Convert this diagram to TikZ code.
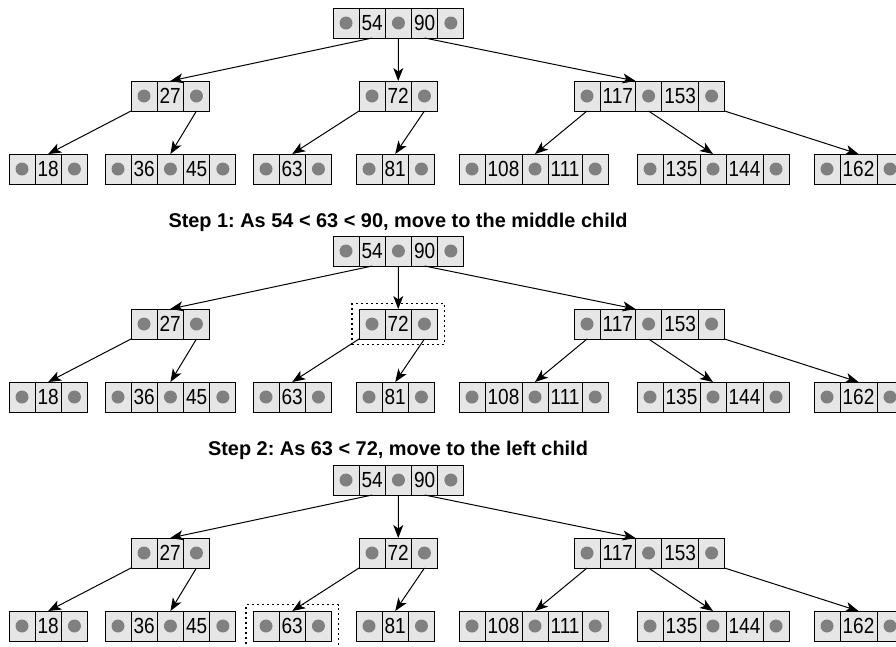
\documentclass[tikz,border=0pt]{standalone}
\usepackage{graphicx}
\usepackage{fontspec}
\setmainfont{Liberation Sans}
\usetikzlibrary{arrows.meta,positioning,fit}

\definecolor{cellgray}{RGB}{230,230,230}
\definecolor{dotgray}{RGB}{128,128,128}

% one B-tree node: dot | key | dot | key | dot ...
\newcommand{\keyrow}[3]{%
  \node[dotcell, anchor=north west] (#1-1) at (#2) {};
  \foreach \k [count=\i] in {#3} {
    \pgfmathtruncatemacro{\cellL}{2*\i-1}
    \pgfmathtruncatemacro{\cellK}{2*\i}
    \pgfmathtruncatemacro{\cellR}{2*\i+1}
    \node[keycell, right=0pt of #1-\cellL] (#1-\cellK) {\scalebox{1}[1.15]{\k}};
    \node[dotcell, right=0pt of #1-\cellK] (#1-\cellR) {};
  }%
}

% the whole tree, node names get prefix #1
\newcommand{\btree}[1]{%
  \keyrow{#1root}{333,8}{54,90}
  \keyrow{#1n27}{131,81}{27}
  \keyrow{#1n72}{359,81}{72}
  \keyrow{#1n117}{574,81}{117,153}
  \keyrow{#1n18}{9,154}{18}
  \keyrow{#1n36}{105,154}{36,45}
  \keyrow{#1n63}{253,154}{63}
  \keyrow{#1n81}{356,154}{81}
  \keyrow{#1n108}{459,154}{108,111}
  \keyrow{#1n135}{637,154}{135,144}
  \keyrow{#1n162}{814,154}{162}
  \draw[link] (#1root-2.south) -- (#1n27-2.north);
  \draw[link] (#1root-3.south) -- (#1n72-2.north);
  \draw[link] (#1root-4.south) -- (#1n117-2.north east);
  \draw[link] (#1n27-1.south west) -- (#1n18-2.north);
  \draw[link] (#1n27-3.south) -- (#1n36-3.north);
  \draw[link] (#1n72-1.south west) -- (#1n63-2.north);
  \draw[link] (#1n72-3.south) -- (#1n81-2.north);
  \draw[link] (#1n117-1.south) -- (#1n108-3.north);
  \draw[link] (#1n117-3.south) -- (#1n135-3.north);
  \draw[link] (#1n117-5.south east) -- (#1n162-2.north);
}

\begin{document}
\frenchspacing
\begin{tikzpicture}[x=1pt, y=-1pt, line width=1pt,
    cell/.style={draw, fill=cellgray, outer sep=0pt, inner ysep=0pt,
      minimum height=30pt, font=\fontsize{19}{20}\selectfont},
    dotcell/.style={cell, minimum width=26pt, inner xsep=0pt,
      path picture={\fill[dotgray] (path picture bounding box.center) circle (6.5pt);}},
    keycell/.style={cell, minimum width=26pt, inner xsep=2.65pt},
    link/.style={-{Stealth[length=13pt, width=10pt, inset=3.5pt]}},
    steptitle/.style={anchor=base, font=\bfseries\fontsize{19.9}{22}\selectfont},
    hilite/.style={draw, dash pattern=on 2pt off 3pt, line width=1.1pt,
      inner xsep=7pt, inner ysep=5.5pt}]
  \clip (0,0) rectangle (896,646);
  % ---- start: the tree ----
  \begin{scope}
    \btree{a}
  \end{scope}
  % ---- step 1: middle child of the root ----
  \node[steptitle] (step1) at (398,227) {Step 1: As 54 < 63 < 90, move to the middle child};
  \begin{scope}[yshift=-228pt]
    \btree{b}
    \node[hilite, fit=(bn72-1)(bn72-3)] (mark1) {};
  \end{scope}
  % ---- step 2: left child of 72 ----
  \node[steptitle] (step2) at (398,455) {Step 2: As 63 < 72, move to the left child};
  \begin{scope}[yshift=-457pt]
    \btree{c}
    \node[hilite, inner ysep=6.5pt, fit=(cn63-1)(cn63-3)] (mark2) {};
  \end{scope}
\end{tikzpicture}
\end{document}
